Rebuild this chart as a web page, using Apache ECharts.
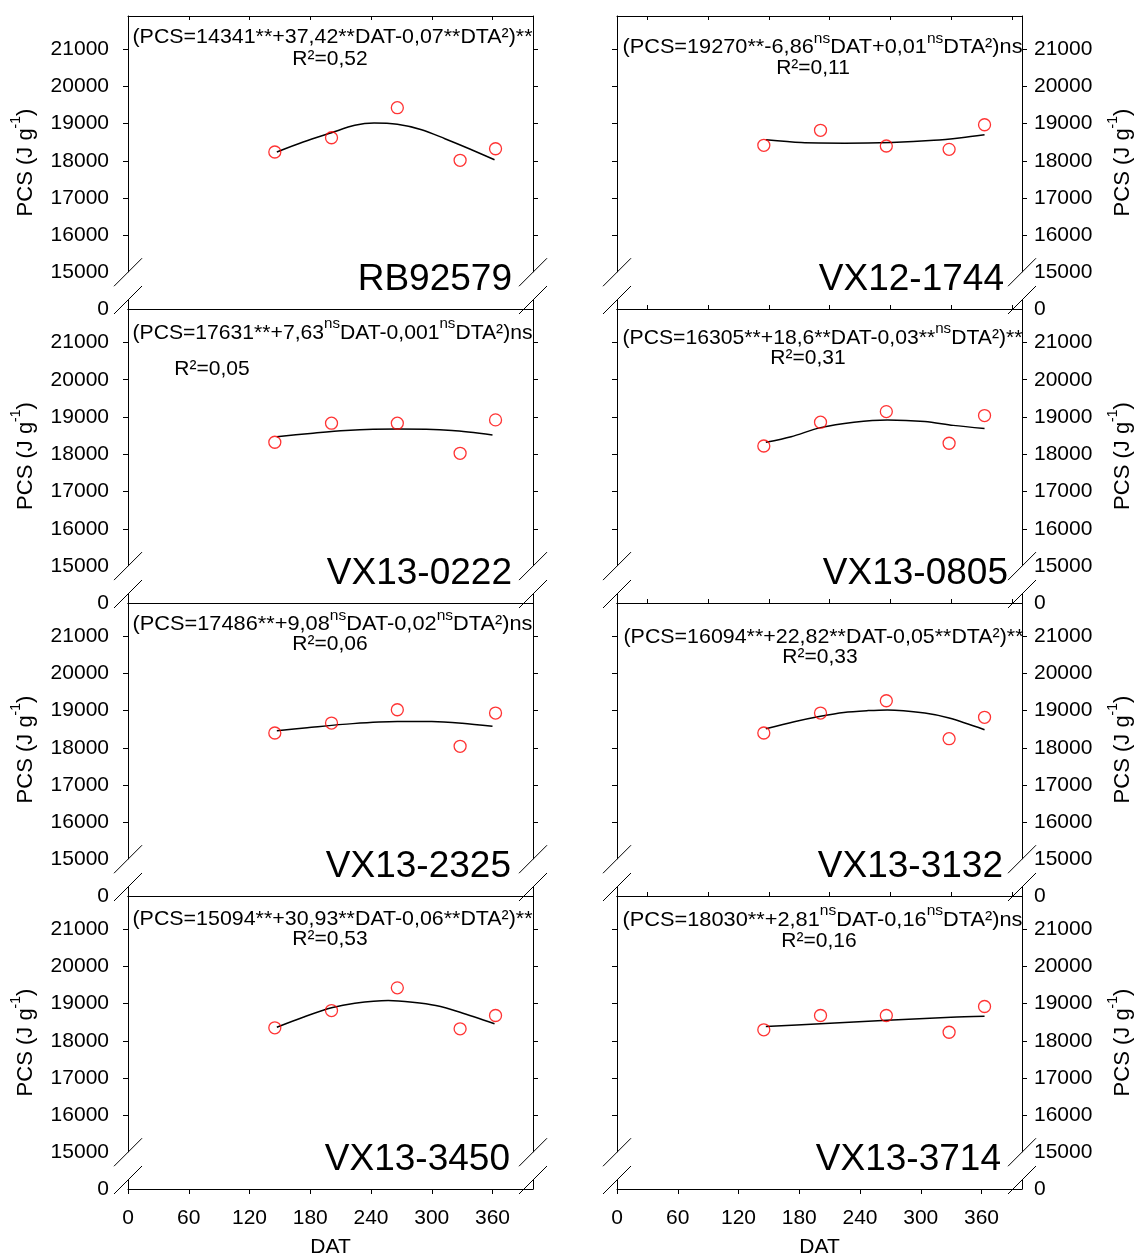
<!DOCTYPE html>
<html><head><meta charset="utf-8">
<script src="https://cdn.jsdelivr.net/npm/echarts@6/dist/echarts.min.js"></script>
<style>html,body{margin:0;padding:0;background:#fff}#c{width:1137px;height:1257px}</style>
</head><body><div id="c"></div><script>
// ---------------- DATA ----------------
const DAT = [145, 201, 266, 328, 363];
const CULTIVARS = ['RB92579', 'VX12-1744', 'VX13-0222', 'VX13-0805', 'VX13-2325', 'VX13-3132', 'VX13-3450', 'VX13-3714'];

const PCS_RB92579  = [18236, 18620, 19428, 18012, 18324];
const PCS_VX121744 = [18416, 18820, 18397, 18308, 18970];
const PCS_VX130222 = [18322, 18833, 18833, 18026, 18922];
const PCS_VX130805 = [18222, 18860, 19145, 18295, 19038];
const PCS_VX132325 = [18397, 18666, 19024, 18039, 18935];
const PCS_VX133132 = [18397, 18935, 19266, 18244, 18820];
const PCS_VX133450 = [18349, 18814, 19425, 18322, 18680];
const PCS_VX133714 = [18295, 18680, 18680, 18230, 18922];

// fitted curves: [DAT, PCS]
const FIT_RB92579  = [[147,18236],[173,18505],[201,18755],[224,18954],[243,19016],[266,18981],[290,18836],[313,18594],[337,18324],[362,18028]];
const FIT_VX121744 = [[147,18565],[182,18490],[225,18475],[271,18495],[313,18550],[340,18620],[363,18700]];
const FIT_VX130222 = [[147,18470],[180,18560],[215,18640],[266,18680],[320,18640],[360,18520]];
const FIT_VX130805 = [[147,18322],[172,18472],[201,18715],[234,18860],[267,18922],[304,18880],[332,18775],[363,18690]];
const FIT_VX132325 = [[147,18459],[177,18540],[222,18650],[266,18705],[300,18705],[330,18660],[360,18577]];
const FIT_VX133132 = [[147,18513],[175,18700],[201,18847],[224,18950],[248,19000],[267,19020],[304,18935],[328,18800],[363,18486]];
const FIT_VX133450 = [[147,18365],[173,18634],[201,18887],[224,19011],[257,19083],[281,19038],[304,18949],[328,18769],[362,18456]];
const FIT_VX133714 = [[147,18384],[201,18456],[267,18550],[330,18634],[363,18661]];

const POINTS = [PCS_RB92579, PCS_VX121744, PCS_VX130222, PCS_VX130805, PCS_VX132325, PCS_VX133132, PCS_VX133450, PCS_VX133714];
const FITS = [FIT_RB92579, FIT_VX121744, FIT_VX130222, FIT_VX130805, FIT_VX132325, FIT_VX133132, FIT_VX133450, FIT_VX133714];

const EQUATIONS = [
  '(PCS=14341**+37,42**DAT-0,07**DTA²)**',
  '(PCS=19270**-6,86{ns}DAT+0,01{ns}DTA²)ns',
  '(PCS=17631**+7,63{ns}DAT-0,001{ns}DTA²)ns',
  '(PCS=16305**+18,6**DAT-0,03**{ns}DTA²)**',
  '(PCS=17486**+9,08{ns}DAT-0,02{ns}DTA²)ns',
  '(PCS=16094**+22,82**DAT-0,05**DTA²)**',
  '(PCS=15094**+30,93**DAT-0,06**DTA²)**',
  '(PCS=18030**+2,81{ns}DAT-0,16{ns}DTA²)ns'
];
const R2_TEXT = ['R²=0,52', 'R²=0,11', 'R²=0,05', 'R²=0,31', 'R²=0,06', 'R²=0,33', 'R²=0,53', 'R²=0,16'];

const X_TICKS = [0, 60, 120, 180, 240, 300, 360];
const X_TICKS_TOP_LEFT = [60, 120, 180, 240, 300, 360];
const X_TICKS_TOP_RIGHT = [30, 90, 150, 210, 270, 330, 390];
const Y_BREAK_ZERO = 14010;          // axis position that stands for 0 below the break
const Y_LABEL_VALUES = [14010, 15000, 16000, 17000, 18000, 19000, 20000, 21000];
const Y_TICK_VALUES = [16000, 17000, 18000, 19000, 20000, 21000];
const Y_MAX = 21897;
const X_MAX = 400;

// ---------------- LAYOUT ----------------
const FONT = 'Liberation Sans, Arial, Helvetica, sans-serif';
const COL_LEFT = [128, 617];
const GRID_W = 405;
const ROW_TOPS = [16, 309, 603, 896];
const ROW_BOTTOM_LAST = 1189;
// per panel: [eq dx from panel center, eq dy from top, r2 center x from panel left, r2 dy, label right offset]
const TEXT_POS = [
  [2, 18.5, 202, 43.5, 21],
  [3, 28.5, 196, 52.5, 18],
  [2, 21, 84, 60, 21],
  [3, 26, 191, 49, 14],
  [2, 18.5, 202, 41.5, 22],
  [4, 31.5, 203, 54.5, 19],
  [2, 20, 202, 43, 23],
  [3, 21, 202, 45, 21]
];
const EQ_WIDTH = 400;

const chart = echarts.init(document.getElementById('c'), null, {renderer: 'canvas'});

const rowBottom = r => (r < 3 ? ROW_TOPS[r + 1] : ROW_BOTTOM_LAST);
const grids = [], xAxes = [], yAxes = [], series = [];
for (let i = 0; i < 8; i++) {
  const row = Math.floor(i / 2), col = i % 2;
  const top = ROW_TOPS[row];
  grids.push({left: COL_LEFT[col], top: top, width: GRID_W, height: rowBottom(row) - top,
    containLabel: false, outerBoundsMode: 'none'});
  const axLine = {show: true, onZero: false, lineStyle: {color: '#000', width: 1}};
  let bottomTick;
  if (row === 3) bottomTick = {show: true, inside: false, length: 5, customValues: X_TICKS, lineStyle: {color: '#000'}};
  else if (col === 1) bottomTick = {show: true, inside: true, length: 4, customValues: X_TICKS_TOP_RIGHT, lineStyle: {color: '#000'}};
  else bottomTick = {show: false};
  xAxes.push({
    type: 'value', gridIndex: i, position: 'bottom', min: 0, max: X_MAX,
    axisLine: axLine, axisTick: bottomTick,
    axisLabel: row === 3 ? {show: true, customValues: X_TICKS, fontSize: 21, color: '#000', fontFamily: FONT, margin: 19} : {show: false},
    splitLine: {show: false},
    name: row === 3 ? 'DAT' : '', nameLocation: 'middle', nameGap: 48,
    nameTextStyle: {fontSize: 21, color: '#000', fontFamily: FONT}
  });
  xAxes.push({
    type: 'value', gridIndex: i, position: 'top', min: 0, max: X_MAX,
    axisLine: axLine,
    axisTick: row === 0 ? {show: true, inside: true, length: 4, customValues: col === 0 ? X_TICKS_TOP_LEFT : X_TICKS_TOP_RIGHT, lineStyle: {color: '#000'}} : {show: false},
    axisLabel: {show: false}, splitLine: {show: false}
  });
  yAxes.push({
    type: 'value', gridIndex: i, position: col === 0 ? 'left' : 'right', min: Y_BREAK_ZERO, max: Y_MAX,
    axisLine: axLine,
    axisTick: {show: true, inside: false, length: 5, customValues: Y_TICK_VALUES, lineStyle: {color: '#000'}},
    axisLabel: {show: true, customValues: Y_LABEL_VALUES, formatter: v => (v < 15000 ? '0' : String(v)),
      fontSize: 21, color: '#000', fontFamily: FONT, margin: col === 0 ? 19 : 12},
    splitLine: {show: false},
    name: '{a|PCS (J g}{b|-1}{a|)}', nameLocation: 'middle', nameRotate: 90, nameGap: col === 0 ? 91 : 84,
    nameTextStyle: {fontSize: 22, color: '#000', fontFamily: FONT,
      rich: {a: {fontSize: 22, color: '#000', fontFamily: FONT, lineHeight: 28, verticalAlign: 'bottom'},
             b: {fontSize: 14, color: '#000', fontFamily: FONT, lineHeight: 14, verticalAlign: 'top'}}}
  });
  yAxes.push({
    type: 'value', gridIndex: i, position: col === 0 ? 'right' : 'left', min: Y_BREAK_ZERO, max: Y_MAX,
    axisLine: axLine,
    axisTick: {show: true, inside: false, length: 5, customValues: Y_TICK_VALUES, lineStyle: {color: '#000'}},
    axisLabel: {show: false}, splitLine: {show: false}
  });
  series.push({
    type: 'line', xAxisIndex: 2 * i, yAxisIndex: 2 * i, data: FITS[i], smooth: 0.3,
    showSymbol: false, symbol: 'none', lineStyle: {color: '#000', width: 1.5}, z: 2, silent: true
  });
  series.push({
    type: 'scatter', xAxisIndex: 2 * i, yAxisIndex: 2 * i,
    data: DAT.map((x, k) => [x, POINTS[i][k]]),
    symbol: 'circle', symbolSize: 12,
    itemStyle: {color: 'rgba(0,0,0,0)', borderColor: '#ff0000', borderWidth: 1.3}, z: 3, silent: true
  });
}

chart.setOption({
  animation: false,
  backgroundColor: '#fff',
  grid: grids, xAxis: xAxes, yAxis: yAxes, series: series
});

// ---------------- annotations & axis breaks ----------------
const EQ_N = 21, EQ_S = 15;
const mctx = document.createElement('canvas').getContext('2d');
function measure(s, size) { mctx.font = size + 'px ' + FONT; return mctx.measureText(s).width; }
function richEq(s) {
  const parts = s.split('{ns}');
  let out = '', w = 0;
  parts.forEach((p, k) => {
    if (p) { out += '{n|' + p + '}'; w += measure(p, EQ_N); }
    if (k < parts.length - 1) { out += '{s|ns}'; w += measure('ns', EQ_S); }
  });
  return {text: out, width: w};
}
const graphics = [];
for (let i = 0; i < 8; i++) {
  const row = Math.floor(i / 2), col = i % 2;
  const left = COL_LEFT[col], top = ROW_TOPS[row];
  const right = left + GRID_W, bottom = rowBottom(row);
  const tp = TEXT_POS[i];
  const eq = richEq(EQUATIONS[i]);
  const sx = Math.max(0.9, Math.min(1.15, EQ_WIDTH / eq.width));
  graphics.push({
    type: 'text', x: left + GRID_W / 2 + tp[0], y: top + tp[1], z: 60, scaleX: sx,
    style: {text: eq.text, align: 'center', verticalAlign: 'middle', textAlign: 'center', textVerticalAlign: 'middle',
      rich: {n: {fill: '#000', fontSize: EQ_N, fontFamily: FONT, lineHeight: 27, verticalAlign: 'bottom'},
             s: {fill: '#000', fontSize: EQ_S, fontFamily: FONT, lineHeight: 15, verticalAlign: 'top'}}}
  });
  graphics.push({
    type: 'text', x: left + tp[2], y: top + tp[3], z: 60,
    style: {text: R2_TEXT[i], fill: '#000', fontSize: 21, fontFamily: FONT, align: 'center', verticalAlign: 'middle', textAlign: 'center', textVerticalAlign: 'middle'}
  });
  graphics.push({
    type: 'text', x: right - tp[4], y: bottom - 29.5, z: 60,
    style: {text: CULTIVARS[i], fill: '#000', fontSize: 37, fontFamily: FONT, align: 'right', verticalAlign: 'middle', textAlign: 'right', textVerticalAlign: 'middle'}
  });
  const p15 = chart.convertToPixel({xAxisIndex: 2 * i, yAxisIndex: 2 * i}, [0, 15000]);
  const p0 = chart.convertToPixel({xAxisIndex: 2 * i, yAxisIndex: 2 * i}, [X_MAX, Y_BREAK_ZERO]);
  const y15 = p15[1], yB = p0[1];
  [p15[0], p0[0]].forEach(ax => {
    graphics.push({type: 'rect', z: 70, shape: {x: ax - 3, y: y15, width: 6, height: (yB - 9) - y15}, style: {fill: '#fff'}});
    [y15, yB - 9].forEach(yc => {
      graphics.push({type: 'line', z: 71, shape: {x1: ax - 14, y1: yc + 14, x2: ax + 14, y2: yc - 14}, style: {stroke: '#000', lineWidth: 1}});
    });
  });
}
chart.setOption({graphic: graphics});
</script></body></html>
